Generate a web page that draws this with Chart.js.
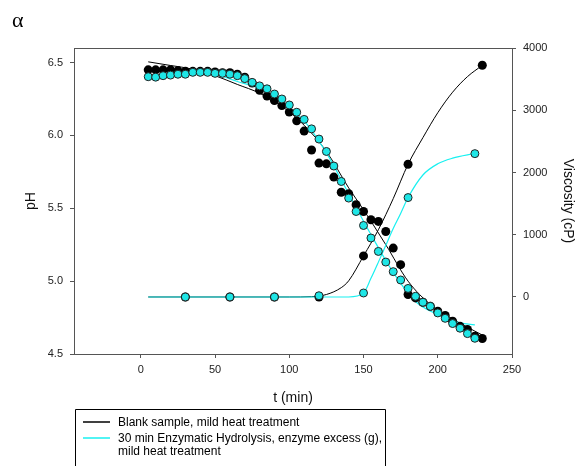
<!DOCTYPE html>
<html>
<head>
<meta charset="utf-8">
<script src="https://cdn.jsdelivr.net/npm/chart.js@4/dist/chart.umd.min.js"></script>
<style>
  html, body { margin: 0; padding: 0; background: #fff; }
  canvas { display: block; }
</style>
</head>
<body>
<canvas id="c" width="579" height="466"></canvas>
<script>
// ---- measured data ----
// pH, blank sample (every 5 min)
const blankPhTime = [5,10,15,20,25,30,35,40,45,50,55,60,65,70,75,80,85,90,95,100,105,110,115,120,125,130,135,140,145,150,155,160,165,170,175,180,185,190,195,200,205,210,215,220,225,230];
const blankPh = [6.45,6.45,6.45,6.45,6.445,6.44,6.44,6.44,6.44,6.435,6.43,6.43,6.42,6.40,6.36,6.31,6.27,6.24,6.205,6.16,6.10,6.03,5.90,5.81,5.805,5.714,5.61,5.60,5.524,5.478,5.421,5.41,5.341,5.227,5.113,4.908,4.885,4.855,4.827,4.793,4.764,4.725,4.69,4.668,4.622,4.606];

// pH, 30 min enzymatic hydrolysis
const enzPhTime = [5,10,15,20,25,30,35,40,45,50,55,60,65,70,75,80,85,90,95,100,105,110,115,120,125,130,135,140,145,150,155,160,165,170,175,180,185,190,195,200,205,210,215,220,225];
const enzPh = [6.403,6.40,6.41,6.414,6.42,6.42,6.433,6.433,6.433,6.426,6.426,6.42,6.41,6.39,6.364,6.34,6.32,6.284,6.25,6.209,6.159,6.11,6.045,5.975,5.89,5.79,5.684,5.57,5.478,5.382,5.296,5.204,5.131,5.065,5.008,4.95,4.896,4.855,4.827,4.782,4.745,4.709,4.677,4.64,4.608];

// viscosity (cP)
const blankViscTime = [30,60,90,120,150,180,230];
const blankVisc = [0,0,0,0,660,2132,3722];
const enzViscTime = [30,60,90,120,150,180,225];
const enzVisc = [0,0,0,20,64,1597,2303];

// fitted curves
const blankPhFitTime = [5,20,35,50,65,80,95,110,125,140,150,165,180,195,210,230];
const blankPhFit = [6.505,6.48,6.455,6.41,6.35,6.29,6.20,6.07,5.89,5.64,5.49,5.25,5.0,4.84,4.74,4.63];
const enzPhFitTime = [5,20,35,50,65,80,95,110,125,140,155,170,185,200,212,225];
const enzPhFit = [6.44,6.44,6.43,6.42,6.37,6.32,6.22,6.10,5.88,5.60,5.32,5.06,4.86,4.77,4.72,4.70];
const blankViscFitTime = [5,100,115,125,135,140,150,160,170,180,190,200,210,220,230];
const blankViscFit = [0,0,5,40,150,260,660,1080,1580,2132,2560,2960,3290,3540,3722];
const enzViscFitTime = [5,140,150,155,160,165,170,175,180,190,200,210,225];
const enzViscFit = [0,0,64,300,560,830,1100,1340,1597,1960,2140,2230,2305];

// axis ticks
const timeTicks = [0,50,100,150,200,250];
const phTicks = [4.5,5.0,5.5,6.0,6.5];
const viscTicks = [0,1000,2000,3000,4000];

const legendLabels = [
  ['Blank sample, mild heat treatment'],
  ['30 min Enzymatic Hydrolysis, enzyme excess (g),', 'mild heat treatment']
];

const CYAN = '#1ee6e6';
const CYAN_LINE = '#19f0f0';
const AXIS = '#555';
const FONT = "'Liberation Sans', Arial, sans-serif";

const pts = (xs, ys) => xs.map((x, i) => ({ x: x, y: ys[i] }));

const framePlugin = {
  id: 'frame',
  afterDraw(chart) {
    const ctx = chart.ctx;
    const a = chart.chartArea;
    ctx.save();
    // top edge of the plot frame
    ctx.strokeStyle = AXIS;
    ctx.lineWidth = 1;
    ctx.beginPath();
    ctx.moveTo(a.left, a.top + 0.5);
    ctx.lineTo(a.right, a.top + 0.5);
    ctx.stroke();

    // panel letter
    ctx.fillStyle = '#000';
    ctx.font = "22px 'Liberation Serif', 'Times New Roman', serif";
    ctx.textBaseline = 'alphabetic';
    ctx.textAlign = 'left';
    ctx.fillText('α', 12, 27);

    // legend box
    const bx = 75.5, by = 409.5, bw = 310;
    ctx.strokeStyle = '#000';
    ctx.lineWidth = 1;
    ctx.beginPath();
    ctx.moveTo(bx, 470);
    ctx.lineTo(bx, by);
    ctx.lineTo(bx + bw, by);
    ctx.lineTo(bx + bw, 470);
    ctx.stroke();

    ctx.font = '12px ' + FONT;
    ctx.textBaseline = 'middle';
    ctx.fillStyle = '#000';
    const colors = ['#000', CYAN_LINE];
    const rows = [422, 438];
    legendLabels.forEach((lines, i) => {
      ctx.strokeStyle = colors[i];
      ctx.lineWidth = 1.5;
      ctx.beginPath();
      ctx.moveTo(83, rows[i]);
      ctx.lineTo(110, rows[i]);
      ctx.stroke();
      lines.forEach((t, j) => ctx.fillText(t, 118, rows[i] + 0.5 + j * 13.5));
    });
    ctx.restore();
  }
};

const tickFont = { size: 11, family: FONT };
const titleFont = { size: 14, family: FONT };
const gridOpts = { display: true, drawOnChartArea: false, drawTicks: true, tickLength: 4, tickColor: AXIS, color: AXIS };

new Chart(document.getElementById('c'), {
  type: 'scatter',
  data: {
    datasets: [
      { data: pts(enzPhTime, enzPh), yAxisID: 'y', pointRadius: 4, pointBackgroundColor: CYAN, pointBorderColor: '#222', pointBorderWidth: 1 },
      { data: pts(enzViscTime, enzVisc), yAxisID: 'y2', pointRadius: 4, pointBackgroundColor: CYAN, pointBorderColor: '#222', pointBorderWidth: 1 },
      { data: pts(blankPhTime, blankPh), yAxisID: 'y', pointRadius: 4.5, pointBackgroundColor: '#000', pointBorderColor: '#000', pointBorderWidth: 0 },
      { data: pts(blankViscTime, blankVisc), yAxisID: 'y2', pointRadius: 4.5, pointBackgroundColor: '#000', pointBorderColor: '#000', pointBorderWidth: 0 },
      { data: pts(enzPhFitTime, enzPhFit), yAxisID: 'y', showLine: true, pointRadius: 0, borderColor: CYAN_LINE, borderWidth: 1.2, cubicInterpolationMode: 'monotone' },
      { data: pts(enzViscFitTime, enzViscFit), yAxisID: 'y2', showLine: true, pointRadius: 0, borderColor: CYAN_LINE, borderWidth: 1.2, cubicInterpolationMode: 'monotone' },
      { data: pts(blankPhFitTime, blankPhFit), yAxisID: 'y', showLine: true, pointRadius: 0, borderColor: '#000', borderWidth: 1, cubicInterpolationMode: 'monotone' },
      { data: pts(blankViscFitTime, blankViscFit), yAxisID: 'y2', showLine: true, pointRadius: 0, borderColor: '#000', borderWidth: 1, cubicInterpolationMode: 'monotone' }
    ]
  },
  options: {
    responsive: false,
    animation: false,
    devicePixelRatio: 1,
    layout: { padding: { left: 20, right: 0, top: 48, bottom: 56 } },
    plugins: { legend: { display: false }, tooltip: { enabled: false } },
    scales: {
      x: {
        type: 'linear', position: 'bottom', min: -45, max: 250,
        afterBuildTicks: s => { s.ticks = timeTicks.map(v => ({ value: v })); },
        afterFit: s => { s.height = 56; },
        grid: gridOpts,
        border: { display: true, color: AXIS, width: 1 },
        ticks: { padding: 5, color: '#222', font: tickFont, maxRotation: 0, autoSkip: false },
        title: { display: true, text: 't (min)', color: '#111', font: titleFont, padding: { top: 4, bottom: 3 } }
      },
      y: {
        type: 'linear', position: 'left', min: 4.5, max: 6.6,
        afterBuildTicks: s => { s.ticks = phTicks.map(v => ({ value: v })); },
        afterFit: s => { s.width = 54; },
        grid: gridOpts,
        border: { display: true, color: AXIS, width: 1 },
        ticks: { padding: 7, color: '#222', font: tickFont, callback: v => v.toFixed(1) },
        title: { display: true, text: 'pH', color: '#111', font: titleFont, padding: { top: 3, bottom: 3 } }
      },
      y2: {
        type: 'linear', position: 'right', min: -916, max: 4000,
        afterBuildTicks: s => { s.ticks = viscTicks.map(v => ({ value: v })); },
        afterFit: s => { s.width = 67; },
        grid: gridOpts,
        border: { display: true, color: AXIS, width: 1 },
        ticks: { padding: 7, color: '#222', font: tickFont, callback: v => String(v) },
        title: { display: true, text: 'Viscosity (cP)', color: '#111', font: titleFont, padding: { top: 3, bottom: 3 } }
      }
    }
  },
  plugins: [framePlugin]
});
</script>
</body>
</html>
